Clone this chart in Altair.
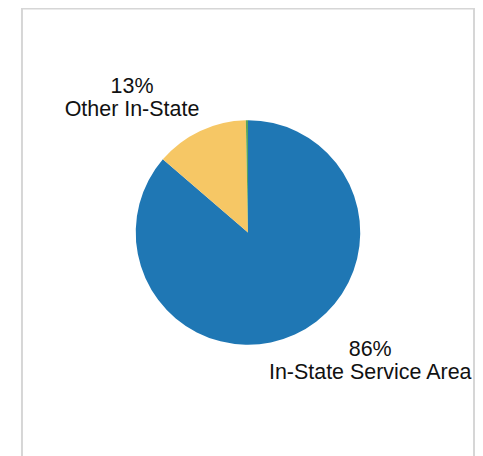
import altair as alt
import pandas as pd

categories = ["In-State Service Area", "Other In-State", "Out-of-State"]
values = [86.3, 13.4, 0.3]
colors = ["#1f77b4", "#f6c765", "#5ba55b"]

df = pd.DataFrame({
    "category": categories,
    "value": values,
    "idx": list(range(len(categories))),
})
df["label"] = [f"{round(v)}%\n{c}" for v, c in zip(values, categories)]

theta_scale = alt.Scale(domain=[0, sum(values)])

pie = alt.Chart(df).mark_arc(outerRadius=112.5, stroke=None).encode(
    theta=alt.Theta("value:Q", stack=True, scale=theta_scale),
    order=alt.Order("idx:Q"),
    color=alt.Color("category:N", scale=alt.Scale(domain=categories, range=colors), legend=None),
)

lab_base = alt.Chart(df).transform_stack(
    stack="value", groupby=[], as_=["v0", "v1"], sort=[alt.SortField("idx")]
).transform_calculate(mid="(datum.v0 + datum.v1) / 2").encode(
    theta=alt.Theta("mid:Q", stack=None, scale=theta_scale),
    text="label:N",
)

txt_kw = dict(radius=145, fontSize=21.5, font="Liberation Sans", lineBreak="\n",
              lineHeight=23, align="center", baseline="middle", color="#111111")

lab_blue = lab_base.mark_text(dx=62, dy=-14, **txt_kw).transform_filter(
    alt.datum.category == categories[0])
lab_yel = lab_base.mark_text(dx=-54.5, dy=-15, **txt_kw).transform_filter(
    alt.datum.category == categories[1])

frame = alt.Chart(pd.DataFrame({"f": [0]})).mark_rect(
    fill=None, fillOpacity=0, stroke="#d6d6d6", strokeWidth=2
).encode(
    x=alt.value(0), x2=alt.value("width"), y=alt.value(0),
    y2=alt.value(alt.expr("height + 20")),
)

chart = alt.layer(frame, pie, lab_blue, lab_yel).properties(
    width=453, height=449,
    padding={"left": 14, "top": 0, "right": 1, "bottom": 0},
    autosize=alt.AutoSizeParams(type="none"),
).configure_view(stroke=None)

chart.save("out.html", embed_options={"renderer": "svg", "actions": False})
